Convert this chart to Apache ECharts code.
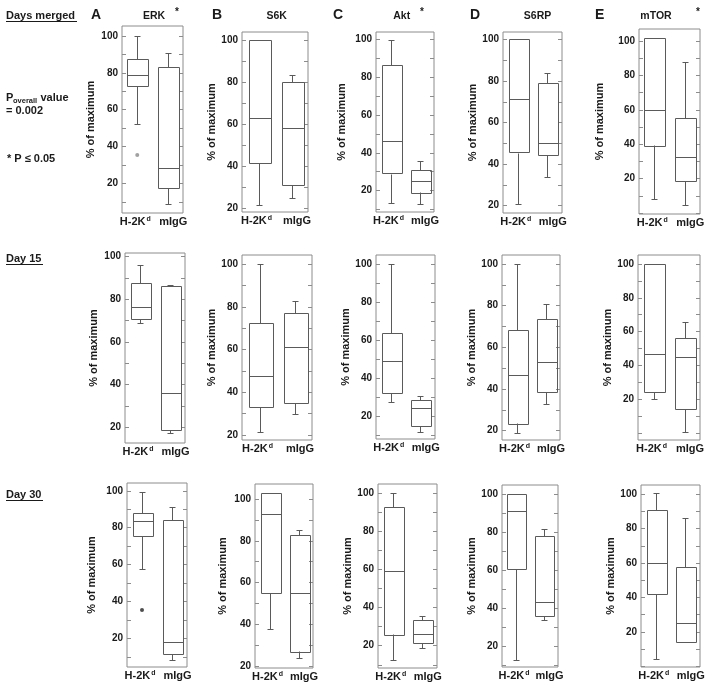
<!DOCTYPE html>
<html>
<head>
<meta charset="utf-8">
<script src="https://cdn.jsdelivr.net/npm/echarts@6/dist/echarts.min.js"></script>
<style>
html,body{margin:0;padding:0;background:#fff;}
#chart{width:712px;height:692px;}
</style>
</head>
<body>
<div id="chart"></div>
<script>
// ---------- DATA ----------
const categories = ['H-2Kd', 'mIgG'];
const markers = ['ERK', 'S6K', 'Akt', 'S6RP', 'mTOR'];
const panelLetters = ['A', 'B', 'C', 'D', 'E'];
const markerStars = ['*', '', '*', '', '*'];
const rowLabels = ['Days merged', 'Day 15', 'Day 30'];
const yTickLabels = [20, 40, 60, 80, 100];
const yTickMarks = [0, 10, 20, 30, 40, 50, 60, 70, 80, 90, 100];

// five-number summaries: [lower whisker, Q1, median, Q3, upper whisker], rows = [H-2Kd, mIgG]
const erkMerged  = [[52, 73, 79, 87.5, 100],   [9, 17.5, 28.5, 83, 91]];
const s6kMerged  = [[21.5, 41.5, 63, 100, 100], [25, 31, 58, 80, 83.5]];
const aktMerged  = [[13.5, 29, 46, 86.5, 100], [13, 19, 25, 31, 35.5]];
const s6rpMerged = [[21, 45.5, 71.5, 100, 100], [34, 44.5, 50, 79, 84]];
const mtorMerged = [[8.5, 39.5, 60, 102, 102], [5, 18.5, 32.5, 55, 88]];

const erkDay15  = [[69, 70.5, 76.5, 87.5, 96],  [17.5, 18.5, 36, 86, 86.5]];
const s6kDay15  = [[21.5, 33, 47.5, 72.5, 100], [30, 35, 61, 77, 82.5]];
const aktDay15  = [[27.5, 32.5, 49, 64, 100],  [12, 15, 24.5, 28.5, 30.5]];
const s6rpDay15 = [[19, 23.5, 46.5, 68.5, 100], [33, 38.5, 53, 73.5, 81]];
const mtorDay15 = [[20.5, 24.5, 47, 100, 100], [1, 14.5, 45, 56.5, 66]];

const erkDay30  = [[57.5, 75.5, 83.5, 88, 99.5], [8.5, 11.5, 18, 84, 91]];
const s6kDay30  = [[37.5, 55, 93, 103, 103],   [24, 27, 55, 83, 85]];
const aktDay30  = [[12.5, 26, 59, 93, 100],    [19, 21.5, 26, 33.5, 35.5]];
const s6rpDay30 = [[13, 60.5, 91, 100, 100],   [34, 36, 43.5, 78, 81.5]];
const mtorDay30 = [[4, 42, 60, 91, 100.5],     [14.5, 14.5, 25, 58, 86.5]];

// outliers (H-2Kd group)
const erkMergedOutliers = [35.5];
const erkDay30Outliers = [35.5];

// y-axis extents per panel [min, max]
const axisRanges = [
  [[4, 105.4], [18.1, 103.9], [8.6, 104], [16.5, 103.6], [-0.5, 107]],
  [[12.6, 101.6], [17.7, 104.2], [8.2, 104.7], [15.5, 104.3], [-4, 105.3]],
  [[4.6, 104.2], [19, 107.3], [8.3, 104.9], [9.1, 104.9], [-0.4, 105.4]]
];

const panelData = [
  [erkMerged, s6kMerged, aktMerged, s6rpMerged, mtorMerged],
  [erkDay15, s6kDay15, aktDay15, s6rpDay15, mtorDay15],
  [erkDay30, s6kDay30, aktDay30, s6rpDay30, mtorDay30]
];
const panelOutliers = [
  [erkMergedOutliers, [], [], [], []],
  [[], [], [], [], []],
  [erkDay30Outliers, [], [], [], []]
];

// ---------- LAYOUT ----------
const gridBoxes = [
  [[122, 26, 61, 187], [242, 32, 66, 180], [376, 32, 58, 180], [503, 32, 59, 181], [639, 29, 61, 185]],
  [[125, 253, 60, 190], [242, 255, 70, 185], [376, 255, 59, 184], [502, 255, 58, 185], [638, 255, 62, 185]],
  [[127, 483, 60, 184], [255, 484, 58, 184], [378, 484, 59, 184], [502, 485, 56, 182], [641, 485, 59, 182]]
];
const nameGaps = [
  [26, 18, 29, 24, 34],
  [26, 17, 20, 23, 20],
  [30, 27, 19, 23, 22]
];
const outlierColors = [['#8a8a8a'], [], ['#222']];

const FONT = '"Liberation Sans", Arial, Helvetica, sans-serif';
const TXT = '#1a1a1a';
const BOX = '#5a5a5a';
const FRAME = '#8c8c8c';

const chart = echarts.init(document.getElementById('chart'), null, {renderer: 'canvas'});

function renderBox(params, api) {
  const x = api.value(0);
  const lo = api.value(1), q1 = api.value(2), med = api.value(3), q3 = api.value(4), hi = api.value(5);
  const band = api.size([1, 0])[0];
  const bw = Math.round(band * 0.68);
  const capW = 6;
  const pLo = api.coord([x, lo]);
  const pQ1 = api.coord([x, q1]);
  const pMed = api.coord([x, med]);
  const pQ3 = api.coord([x, q3]);
  const pHi = api.coord([x, hi]);
  const cx = Math.round(pMed[0]) + 0.5;
  const r = v => Math.round(v) + 0.5;
  const st = {stroke: BOX, lineWidth: 1, fill: null};
  const children = [];
  children.push({type: 'rect', shape: {x: r(cx - bw / 2), y: r(pQ3[1]), width: bw, height: Math.round(pQ1[1] - pQ3[1])}, style: {stroke: BOX, lineWidth: 1, fill: 'none'}});
  children.push({type: 'line', shape: {x1: r(cx - bw / 2), y1: r(pMed[1]), x2: r(cx - bw / 2) + bw, y2: r(pMed[1])}, style: st});
  if (hi > q3) {
    children.push({type: 'line', shape: {x1: cx, y1: r(pQ3[1]), x2: cx, y2: r(pHi[1])}, style: st});
    children.push({type: 'line', shape: {x1: cx - capW / 2, y1: r(pHi[1]), x2: cx + capW / 2, y2: r(pHi[1])}, style: st});
  }
  if (lo < q1) {
    children.push({type: 'line', shape: {x1: cx, y1: r(pQ1[1]), x2: cx, y2: r(pLo[1])}, style: st});
    children.push({type: 'line', shape: {x1: cx - capW / 2, y1: r(pLo[1]), x2: cx + capW / 2, y2: r(pLo[1])}, style: st});
  } else {
    children.push({type: 'line', shape: {x1: cx - capW / 2, y1: r(pLo[1]) + 1, x2: cx + capW / 2, y2: r(pLo[1]) + 1}, style: st});
  }
  return {type: 'group', children: children};
}

const labelTok = {fontSize: 11, fontWeight: 'bold', fontFamily: FONT, color: TXT};
const grids = [], xAxes = [], yAxes = [], series = [];
let gi = 0;
for (let row = 0; row < 3; row++) {
  for (let col = 0; col < 5; col++) {
    const [l, t, w, h] = gridBoxes[row][col];
    const [mn, mx] = axisRanges[row][col];
    grids.push({left: l, top: t, width: w, height: h, show: true, borderColor: FRAME, borderWidth: 1, backgroundColor: 'transparent'});
    xAxes.push({
      type: 'category', gridIndex: gi, data: categories,
      axisLine: {show: false}, axisTick: {show: false}, splitLine: {show: false},
      axisLabel: {
        interval: 0, margin: 3, color: TXT, fontSize: 11, fontWeight: 'bold', fontFamily: FONT,
        formatter: v => v === 'H-2Kd' ? '{h|H-2K}{sup|d}' : '{m|' + v + '}',
        rich: {
          h: Object.assign({}, labelTok),
          m: Object.assign({padding: [0, 0, 0, 11]}, labelTok),
          sup: {fontSize: 7, fontWeight: 'bold', fontFamily: FONT, color: TXT, verticalAlign: 'top', lineHeight: 8, padding: [0, 4, 0, 1]}
        }
      }
    });
    const ticks = yTickMarks.filter(v => v > mn && v < mx);
    yAxes.push({
      type: 'value', gridIndex: gi, min: mn, max: mx, position: 'left',
      name: '% of maximum', nameLocation: 'middle', nameRotate: 90, nameGap: nameGaps[row][col],
      nameTextStyle: {color: TXT, fontSize: 11, fontWeight: 'bold', fontFamily: FONT},
      axisLine: {show: false}, splitLine: {show: false},
      axisTick: {show: true, inside: true, length: 4, customValues: ticks, lineStyle: {color: FRAME}},
      axisLabel: {show: true, customValues: yTickLabels, margin: 4, color: TXT, fontSize: 10, fontWeight: 'bold', fontFamily: FONT}
    });
    yAxes.push({
      type: 'value', gridIndex: gi, min: mn, max: mx, position: 'right',
      axisLine: {show: false}, splitLine: {show: false},
      axisTick: {show: true, inside: true, length: 4, customValues: ticks, lineStyle: {color: FRAME}},
      axisLabel: {show: false}
    });
    const d = panelData[row][col];
    series.push({
      type: 'custom', xAxisIndex: gi, yAxisIndex: gi * 2,
      renderItem: renderBox,
      encode: {x: 0, y: [1, 2, 3, 4, 5]},
      data: d.map((v, i) => [i].concat(v)),
      silent: true, animation: false
    });
    const outs = panelOutliers[row][col];
    if (outs.length) {
      series.push({
        type: 'scatter', xAxisIndex: gi, yAxisIndex: gi * 2,
        symbol: 'circle', symbolSize: 4,
        itemStyle: {color: outlierColors[row][0]},
        data: outs.map(v => [0, v]), silent: true, animation: false
      });
    }
    gi++;
  }
}

// ---------- TEXT ----------
function txt(x, y, text, size, opts) {
  opts = opts || {};
  return {
    type: 'text', x: 0, y: 0, silent: true,
    style: {
      x: x, y: y, text: text, fill: TXT,
      font: 'bold ' + size + 'px ' + FONT,
      align: opts.align || 'left', textAlign: opts.align || 'left',
      verticalAlign: 'middle', textVerticalAlign: 'middle'
    }
  };
}
function uline(x1, x2, y) {
  return {type: 'line', silent: true, shape: {x1: x1, y1: y, x2: x2, y2: y}, style: {stroke: TXT, lineWidth: 1}};
}

const graphics = [];
const rowLabelY = [16, 259, 495];
rowLabels.forEach((s, i) => {
  graphics.push(txt(6, rowLabelY[i], s, 11));
});
graphics.push(uline(6, 77, 21.5), uline(6, 43, 264.5), uline(6, 43, 500.5));
graphics.push(txt(6, 97.5, 'P', 11));
graphics.push(txt(13, 100.5, 'overall', 7.5));
graphics.push(txt(40.5, 97.5, 'value', 11));
graphics.push(txt(6, 110.5, '= 0.002', 11));
graphics.push(txt(7, 159, '* P \u2264 0.05', 11));

const letterX = [91, 212, 333, 470, 595];
const titleX = [154, 276.7, 401.7, 537.5, 656];
const starX = [177, 0, 422, 0, 698];
for (let c = 0; c < 5; c++) {
  graphics.push(txt(letterX[c], 15, panelLetters[c], 14));
  graphics.push(txt(titleX[c], 16, markers[c], 10.5, {align: 'center'}));
  if (markerStars[c]) graphics.push(txt(starX[c], 12, markerStars[c], 10, {align: 'center'}));
}

chart.setOption({
  animation: false,
  backgroundColor: '#fff',
  grid: grids, xAxis: xAxes, yAxis: yAxes, series: series,
  graphic: {elements: graphics}
});
</script>
</body>
</html>
